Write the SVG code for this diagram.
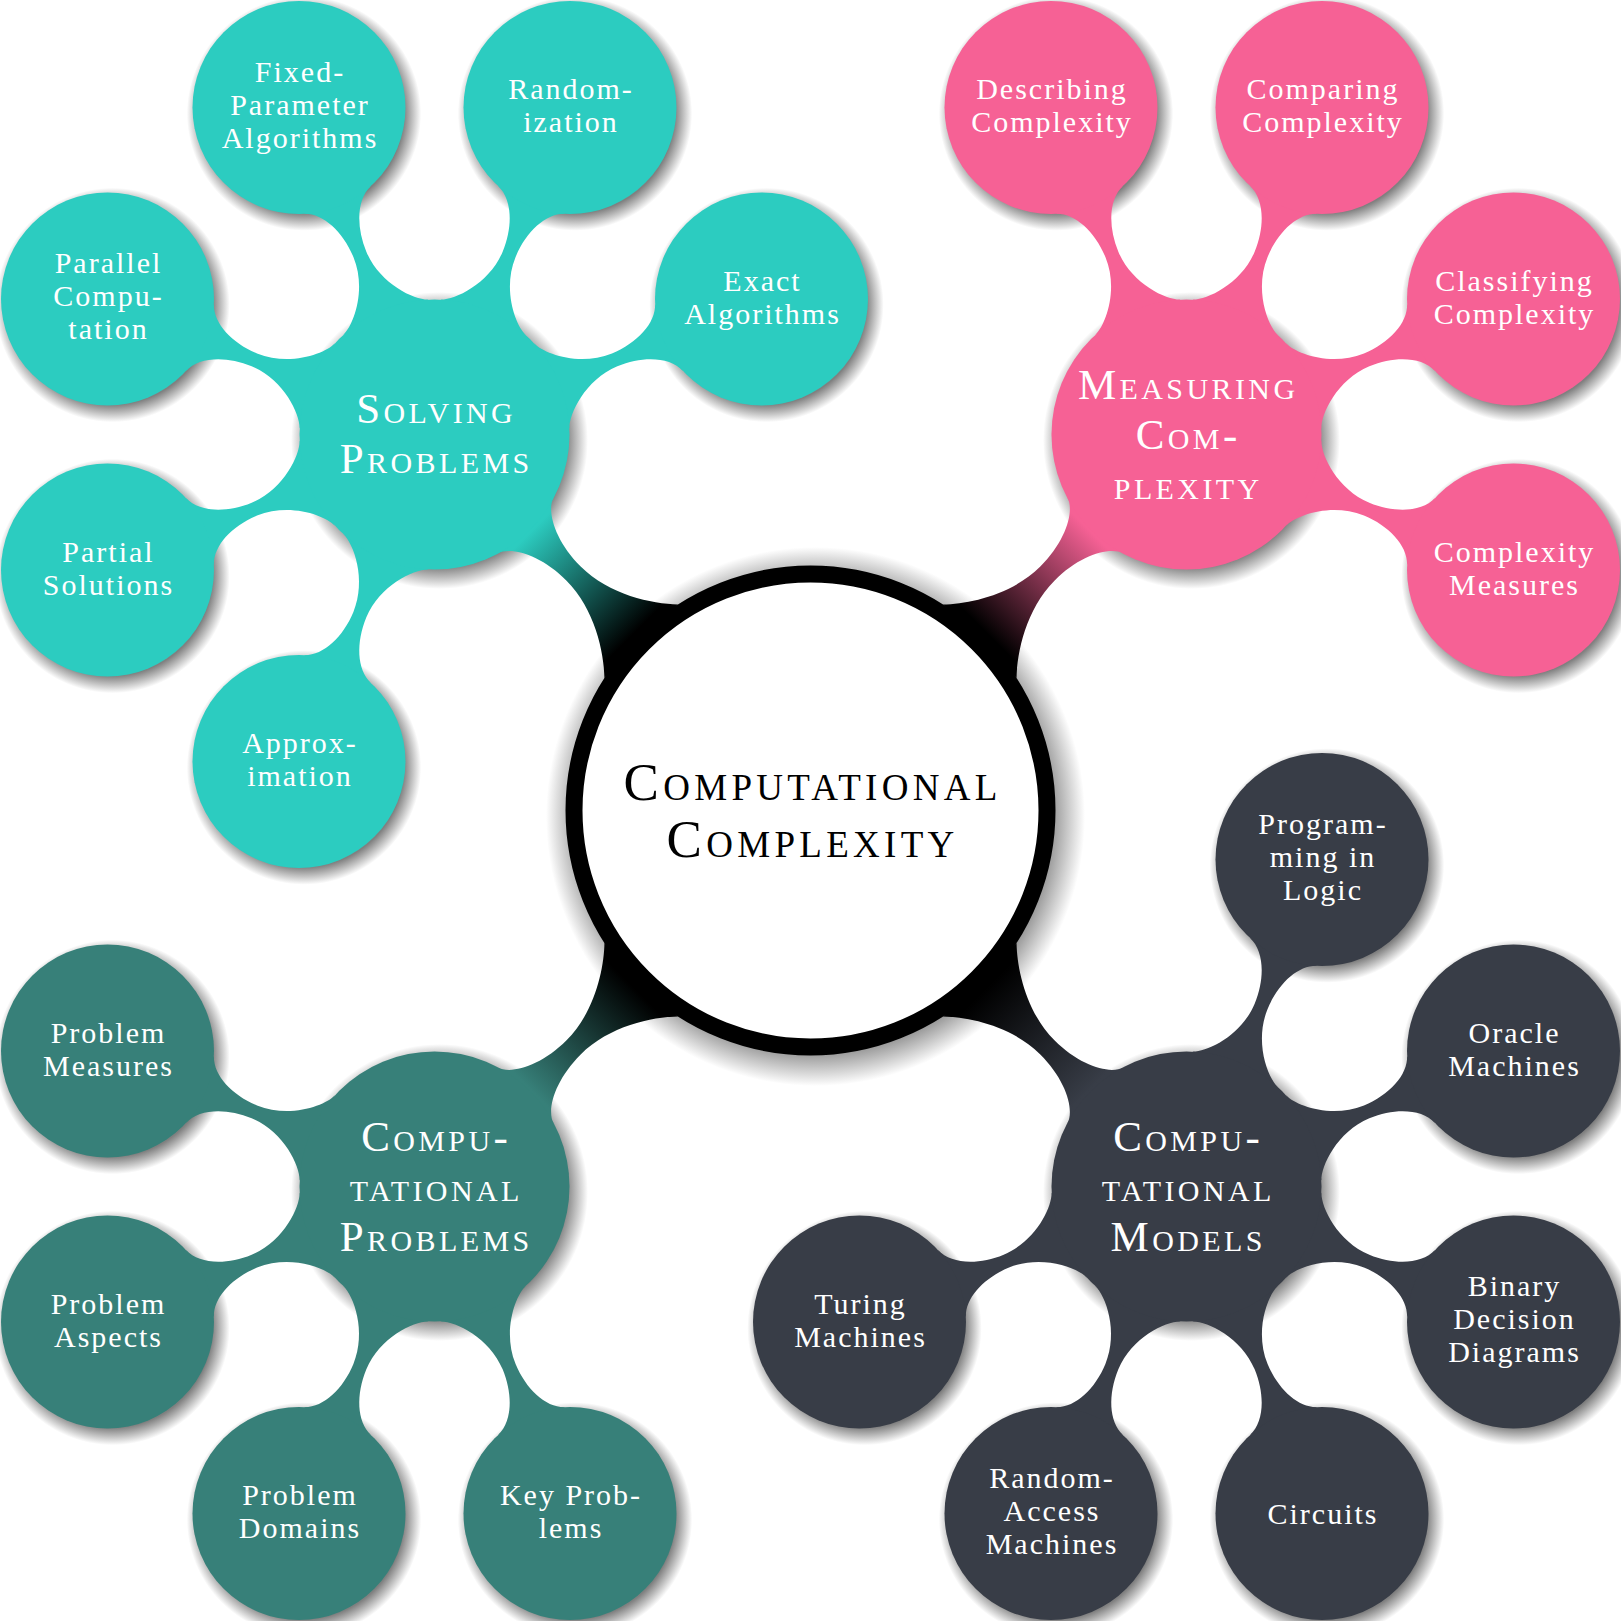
<svg xmlns="http://www.w3.org/2000/svg" xmlns:xlink="http://www.w3.org/1999/xlink" width="1621" height="1621" viewBox="0 0 1621 1621">
<style>
.t0{font-family:"Liberation Serif",serif;font-size:53px;letter-spacing:4.3px;font-variant:small-caps;fill:#000;text-anchor:middle}
.t1{font-family:"Liberation Serif",serif;font-size:43px;letter-spacing:3.4px;font-variant:small-caps;fill:#fff;text-anchor:middle}
.t2{font-family:"Liberation Serif",serif;font-size:30px;letter-spacing:2px;fill:#fff;text-anchor:middle}
.teal{fill:#2CCCC0}.pink{fill:#F66195}.dteal{fill:#378079}.gray{fill:#383D47}
.sh{fill:url(#shade)}
</style>
<defs>
<radialGradient id="shade">
<stop offset="0" stop-color="#808080" stop-opacity="1"/>
<stop offset="0.85" stop-color="#808080" stop-opacity="1"/>
<stop offset="1" stop-color="#808080" stop-opacity="0"/>
</radialGradient>
<linearGradient id="gTeal" gradientUnits="userSpaceOnUse" x1="250" y1="0" x2="395" y2="0"><stop offset="0" stop-color="#000"/><stop offset="1" stop-color="#2CCCC0"/></linearGradient>
<linearGradient id="gPink" gradientUnits="userSpaceOnUse" x1="250" y1="0" x2="395" y2="0"><stop offset="0" stop-color="#000"/><stop offset="1" stop-color="#F66195"/></linearGradient>
<linearGradient id="gDteal" gradientUnits="userSpaceOnUse" x1="250" y1="0" x2="395" y2="0"><stop offset="0" stop-color="#000"/><stop offset="1" stop-color="#378079"/></linearGradient>
<linearGradient id="gGray" gradientUnits="userSpaceOnUse" x1="250" y1="0" x2="395" y2="0"><stop offset="0" stop-color="#000"/><stop offset="1" stop-color="#383D47"/></linearGradient>
<path id="bar1" d="M 239.4,52 C 258,34 295,10 335,10 C 372,10 398.5,25.2 402.9,39.5 L 402.9,-39.5 C 398.5,-25.2 372,-10 335,-10 C 295,-10 258,-34 239.4,-52 Z"/>
<path id="bar2" d="M 126.9,46.2 C 131.7,33 160,7 195,7 C 222,7 247,18 253.9,36.4 L 253.9,-36.4 C 247,-18 222,-7 195,-7 C 160,-7 131.7,-33 126.9,-46.2 Z"/>
</defs>
<rect width="1621" height="1621" fill="#fff"/>

<g id="shadows">
<circle class="sh" cx="815.5" cy="816.5" r="269.5"/>
<circle class="sh" cx="439.5" cy="440.5" r="148.5"/>
<circle class="sh" cx="1191.5" cy="440.5" r="148.5"/>
<circle class="sh" cx="439.5" cy="1192.5" r="148.5"/>
<circle class="sh" cx="1191.5" cy="1192.5" r="148.5"/>
<circle class="sh" cx="304" cy="113.5" r="117.2"/>
<circle class="sh" cx="575" cy="113.5" r="117.2"/>
<circle class="sh" cx="112.5" cy="305" r="117.2"/>
<circle class="sh" cx="766.5" cy="305" r="117.2"/>
<circle class="sh" cx="112.5" cy="576" r="117.2"/>
<circle class="sh" cx="304" cy="767.5" r="117.2"/>
<circle class="sh" cx="1056" cy="113.5" r="117.2"/>
<circle class="sh" cx="1327" cy="113.5" r="117.2"/>
<circle class="sh" cx="1518.5" cy="305" r="117.2"/>
<circle class="sh" cx="1518.5" cy="576" r="117.2"/>
<circle class="sh" cx="112.5" cy="1057" r="117.2"/>
<circle class="sh" cx="112.5" cy="1328" r="117.2"/>
<circle class="sh" cx="304" cy="1519.5" r="117.2"/>
<circle class="sh" cx="575" cy="1519.5" r="117.2"/>
<circle class="sh" cx="1327" cy="865.5" r="117.2"/>
<circle class="sh" cx="1518.5" cy="1057" r="117.2"/>
<circle class="sh" cx="1518.5" cy="1328" r="117.2"/>
<circle class="sh" cx="1327" cy="1519.5" r="117.2"/>
<circle class="sh" cx="1056" cy="1519.5" r="117.2"/>
<circle class="sh" cx="864.5" cy="1328" r="117.2"/>
</g>

<g id="connectors">
<use href="#bar1" fill="url(#gTeal)" transform="translate(810.5,810.5) rotate(225)"/>
<use href="#bar1" fill="url(#gPink)" transform="translate(810.5,810.5) rotate(-45)"/>
<use href="#bar1" fill="url(#gDteal)" transform="translate(810.5,810.5) rotate(135)"/>
<use href="#bar1" fill="url(#gGray)" transform="translate(810.5,810.5) rotate(45)"/>
<g class="teal">
<use href="#bar2" transform="translate(434.5,434.5) rotate(-22.5)"/>
<use href="#bar2" transform="translate(434.5,434.5) rotate(-67.5)"/>
<use href="#bar2" transform="translate(434.5,434.5) rotate(-112.5)"/>
<use href="#bar2" transform="translate(434.5,434.5) rotate(-157.5)"/>
<use href="#bar2" transform="translate(434.5,434.5) rotate(-202.5)"/>
<use href="#bar2" transform="translate(434.5,434.5) rotate(-247.5)"/>
</g>
<g class="pink">
<use href="#bar2" transform="translate(1186.5,434.5) rotate(-112.5)"/>
<use href="#bar2" transform="translate(1186.5,434.5) rotate(-67.5)"/>
<use href="#bar2" transform="translate(1186.5,434.5) rotate(-22.5)"/>
<use href="#bar2" transform="translate(1186.5,434.5) rotate(22.5)"/>
</g>
<g class="dteal">
<use href="#bar2" transform="translate(434.5,1186.5) rotate(-157.5)"/>
<use href="#bar2" transform="translate(434.5,1186.5) rotate(-202.5)"/>
<use href="#bar2" transform="translate(434.5,1186.5) rotate(-247.5)"/>
<use href="#bar2" transform="translate(434.5,1186.5) rotate(-292.5)"/>
</g>
<g class="gray">
<use href="#bar2" transform="translate(1186.5,1186.5) rotate(-67.5)"/>
<use href="#bar2" transform="translate(1186.5,1186.5) rotate(-22.5)"/>
<use href="#bar2" transform="translate(1186.5,1186.5) rotate(22.5)"/>
<use href="#bar2" transform="translate(1186.5,1186.5) rotate(67.5)"/>
<use href="#bar2" transform="translate(1186.5,1186.5) rotate(112.5)"/>
<use href="#bar2" transform="translate(1186.5,1186.5) rotate(157.5)"/>
</g>
</g>

<g id="n-root">
<circle cx="810.5" cy="810.5" r="236.5" fill="#fff" stroke="#000" stroke-width="17"/>
<text class="t0" x="812.6" y="800">Computational</text>
<text class="t0" x="812.6" y="857">Complexity</text>
</g>

<g id="n-solving">
<circle class="teal" cx="434.5" cy="434.5" r="135"/>
<text class="t1" x="436.2" y="423">Solving</text>
<text class="t1" x="436.2" y="473">Problems</text>
</g>
<g id="n-measuring">
<circle class="pink" cx="1186.5" cy="434.5" r="135"/>
<text class="t1" x="1188.2" y="398.5">Measuring</text>
<text class="t1" x="1188.2" y="448.5">Com-</text>
<text class="t1" x="1188.2" y="498.5">plexity</text>
</g>
<g id="n-comp-problems">
<circle class="dteal" cx="434.5" cy="1186.5" r="135"/>
<text class="t1" x="436.2" y="1150.5">Compu-</text>
<text class="t1" x="436.2" y="1200.5">tational</text>
<text class="t1" x="436.2" y="1250.5">Problems</text>
</g>
<g id="n-comp-models">
<circle class="gray" cx="1186.5" cy="1186.5" r="135"/>
<text class="t1" x="1188.2" y="1150.5">Compu-</text>
<text class="t1" x="1188.2" y="1200.5">tational</text>
<text class="t1" x="1188.2" y="1250.5">Models</text>
</g>

<g id="n-fixed">
<circle class="teal" cx="299" cy="107.5" r="106.5"/>
<text class="t2" x="300" y="81.5">Fixed-</text>
<text class="t2" x="300" y="114.5">Parameter</text>
<text class="t2" x="300" y="147.5">Algorithms</text>
</g>
<g id="n-random">
<circle class="teal" cx="570" cy="107.5" r="106.5"/>
<text class="t2" x="571" y="99">Random-</text>
<text class="t2" x="571" y="132">ization</text>
</g>
<g id="n-parallel">
<circle class="teal" cx="107.5" cy="299" r="106.5"/>
<text class="t2" x="108.5" y="273">Parallel</text>
<text class="t2" x="108.5" y="306">Compu-</text>
<text class="t2" x="108.5" y="339">tation</text>
</g>
<g id="n-exact">
<circle class="teal" cx="761.5" cy="299" r="106.5"/>
<text class="t2" x="762.5" y="290.5">Exact</text>
<text class="t2" x="762.5" y="323.5">Algorithms</text>
</g>
<g id="n-partial">
<circle class="teal" cx="107.5" cy="570" r="106.5"/>
<text class="t2" x="108.5" y="561.5">Partial</text>
<text class="t2" x="108.5" y="594.5">Solutions</text>
</g>
<g id="n-approx">
<circle class="teal" cx="299" cy="761.5" r="106.5"/>
<text class="t2" x="300" y="753">Approx-</text>
<text class="t2" x="300" y="786">imation</text>
</g>

<g id="n-describing">
<circle class="pink" cx="1051" cy="107.5" r="106.5"/>
<text class="t2" x="1052" y="99">Describing</text>
<text class="t2" x="1052" y="132">Complexity</text>
</g>
<g id="n-comparing">
<circle class="pink" cx="1322" cy="107.5" r="106.5"/>
<text class="t2" x="1323" y="99">Comparing</text>
<text class="t2" x="1323" y="132">Complexity</text>
</g>
<g id="n-classifying">
<circle class="pink" cx="1513.5" cy="299" r="106.5"/>
<text class="t2" x="1514.5" y="290.5">Classifying</text>
<text class="t2" x="1514.5" y="323.5">Complexity</text>
</g>
<g id="n-measures">
<circle class="pink" cx="1513.5" cy="570" r="106.5"/>
<text class="t2" x="1514.5" y="561.5">Complexity</text>
<text class="t2" x="1514.5" y="594.5">Measures</text>
</g>

<g id="n-prob-measures">
<circle class="dteal" cx="107.5" cy="1051" r="106.5"/>
<text class="t2" x="108.5" y="1042.5">Problem</text>
<text class="t2" x="108.5" y="1075.5">Measures</text>
</g>
<g id="n-prob-aspects">
<circle class="dteal" cx="107.5" cy="1322" r="106.5"/>
<text class="t2" x="108.5" y="1313.5">Problem</text>
<text class="t2" x="108.5" y="1346.5">Aspects</text>
</g>
<g id="n-prob-domains">
<circle class="dteal" cx="299" cy="1513.5" r="106.5"/>
<text class="t2" x="300" y="1505">Problem</text>
<text class="t2" x="300" y="1538">Domains</text>
</g>
<g id="n-key-problems">
<circle class="dteal" cx="570" cy="1513.5" r="106.5"/>
<text class="t2" x="571" y="1505">Key Prob-</text>
<text class="t2" x="571" y="1538">lems</text>
</g>

<g id="n-prog-logic">
<circle class="gray" cx="1322" cy="859.5" r="106.5"/>
<text class="t2" x="1323" y="833.5">Program-</text>
<text class="t2" x="1323" y="866.5">ming in</text>
<text class="t2" x="1323" y="899.5">Logic</text>
</g>
<g id="n-oracle">
<circle class="gray" cx="1513.5" cy="1051" r="106.5"/>
<text class="t2" x="1514.5" y="1042.5">Oracle</text>
<text class="t2" x="1514.5" y="1075.5">Machines</text>
</g>
<g id="n-bdd">
<circle class="gray" cx="1513.5" cy="1322" r="106.5"/>
<text class="t2" x="1514.5" y="1296">Binary</text>
<text class="t2" x="1514.5" y="1329">Decision</text>
<text class="t2" x="1514.5" y="1362">Diagrams</text>
</g>
<g id="n-circuits">
<circle class="gray" cx="1322" cy="1513.5" r="106.5"/>
<text class="t2" x="1323" y="1524">Circuits</text>
</g>
<g id="n-ram">
<circle class="gray" cx="1051" cy="1513.5" r="106.5"/>
<text class="t2" x="1052" y="1487.5">Random-</text>
<text class="t2" x="1052" y="1520.5">Access</text>
<text class="t2" x="1052" y="1553.5">Machines</text>
</g>
<g id="n-turing">
<circle class="gray" cx="859.5" cy="1322" r="106.5"/>
<text class="t2" x="860.5" y="1313.5">Turing</text>
<text class="t2" x="860.5" y="1346.5">Machines</text>
</g>
</svg>
